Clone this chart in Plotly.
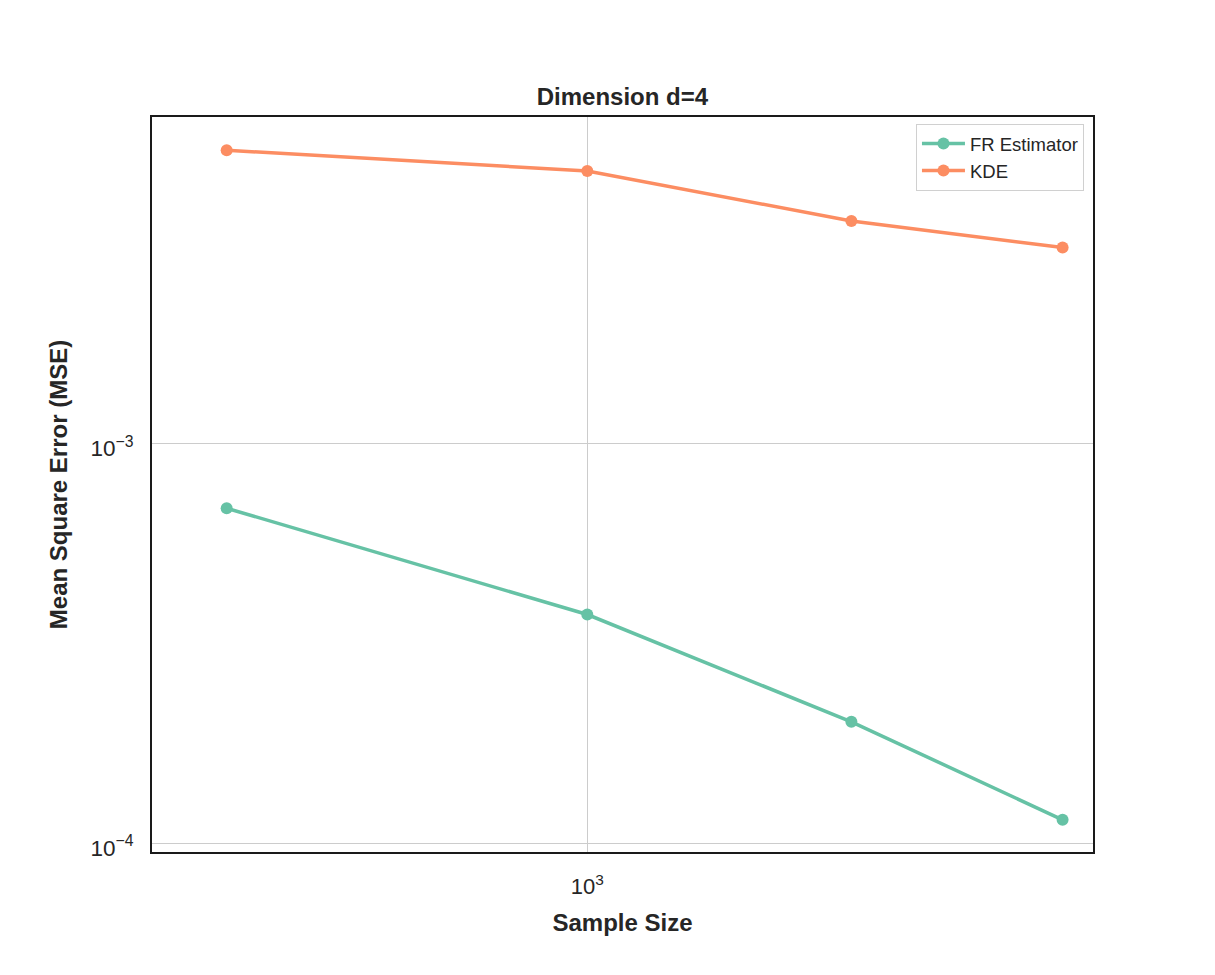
import plotly.graph_objects as go

# Data
sample_size = [100, 1000, 5400, 20800]
fr_mse = [6.88e-4, 3.73e-4, 2.01e-4, 1.143e-4]
kde_mse = [5.41e-3, 4.80e-3, 3.60e-3, 3.09e-3]

x_tickvals = [1000]
x_ticktext = ["10<sup>3</sup>"]
y_tickvals = [1e-4, 1e-3]
y_ticktext = ["10<sup>\u22124</sup>", "10<sup>\u22123</sup>"]

FONT = "Liberation Sans, Arial, sans-serif"
TEXT = "#262626"

fig = go.Figure()
fig.add_trace(go.Scatter(
    x=sample_size, y=fr_mse, mode="lines+markers", name="FR Estimator",
    line=dict(color="#66c2a5", width=3.5),
    marker=dict(color="#66c2a5", size=12),
))
fig.add_trace(go.Scatter(
    x=sample_size, y=kde_mse, mode="lines+markers", name="KDE",
    line=dict(color="#fc8d62", width=3.5),
    marker=dict(color="#fc8d62", size=12),
))

fig.update_layout(
    width=1215, height=975,
    margin=dict(l=152, r=122, t=117, b=123),
    paper_bgcolor="white", plot_bgcolor="white",
    font=dict(family=FONT, color=TEXT),
    title=dict(text="<b>Dimension d=4</b>", x=0.5123, xanchor="center",
               y=1 - 97 / 975, yanchor="middle",
               font=dict(size=24, family=FONT, color=TEXT)),
    showlegend=True,
    legend=dict(x=0.9904, xanchor="right", y=0.9905, yanchor="top",
                itemwidth=43,
                bgcolor="white", bordercolor="#d0d0d0", borderwidth=1,
                font=dict(size=18.5, family=FONT, color=TEXT)),
)

fig.update_xaxes(
    type="log", range=[1.7929, 4.4024],
    tickvals=x_tickvals, ticktext=x_ticktext,
    tickfont=dict(size=22, family=FONT, color=TEXT),
    ticklabelstandoff=14,
    showgrid=True, gridcolor="#cccccc", gridwidth=1,
    showline=True, linecolor="#1a1a1a", linewidth=2, mirror=True,
    ticks="", zeroline=False,
    title=dict(text="<b>Sample Size</b>", standoff=16,
               font=dict(size=24, family=FONT, color=TEXT)),
)
fig.update_yaxes(
    type="log", range=[-4.0225, -2.1835],
    tickvals=y_tickvals, ticktext=y_ticktext,
    tickfont=dict(size=22.5, family=FONT, color=TEXT),
    ticklabelshift=5, ticklabelstandoff=12,
    showgrid=True, gridcolor="#cccccc", gridwidth=1,
    showline=True, linecolor="#1a1a1a", linewidth=2, mirror=True,
    ticks="", zeroline=False,
    title=dict(text="<b>Mean Square Error (MSE)</b>", standoff=16,
               font=dict(size=24, family=FONT, color=TEXT)),
)

fig.write_html("out.html")
